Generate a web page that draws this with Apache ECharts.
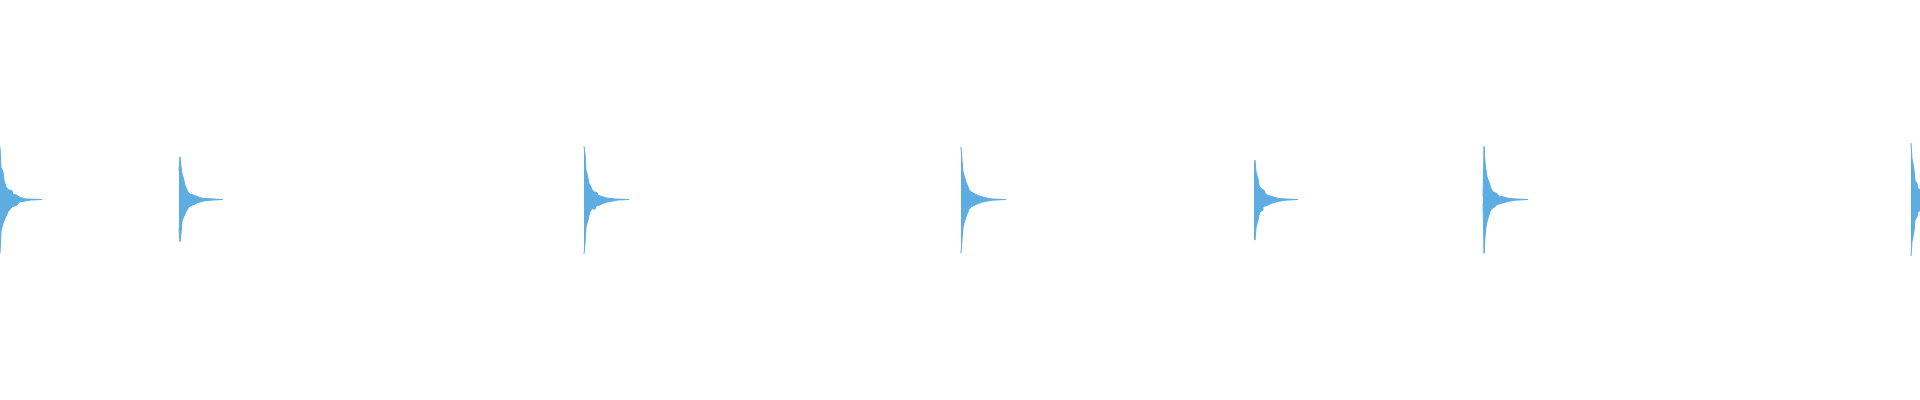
<!DOCTYPE html>
<html>
<head>
<meta charset="utf-8">
<script src="https://cdn.jsdelivr.net/npm/echarts@6/dist/echarts.min.js"></script>
<style>
  html, body { margin: 0; padding: 0; background: #ffffff; }
  #chart { width: 1920px; height: 400px; }
</style>
</head>
<body>
<div id="chart"></div>
<script>
// Start position (x) of each burst
const burstStarts = [0, 180, 584, 961, 1254, 1484, 1911];

// Upper envelope per burst: [offset, amplitude]
const upperA = [[0,52.7],[1,32],[3,27.7],[4,19.3],[5,16],[6,12.7],[8,10],[10,8.7],[12,6.7],[13,5.3],[15,4.3],[17,2.7],[19,2],[20,1],[22,0.5],[26,0],[41,0]];
const lowerA = [[0,54],[1,32],[3,24],[5,19],[7,14.7],[8,12.3],[10,10],[12,7.3],[14,5.7],[17,4],[19,2.7],[21,1.7],[24,1],[28,0.5],[31,0],[41,0]];

const upperB = [[-1,28.3],[0,42.7],[1,33],[2,26],[3,22.7],[4,18.7],[5,14.3],[6,12.7],[7,10],[8,7.7],[9,6.7],[10,5.3],[12,4.3],[14,3.3],[16,2.7],[18,2],[20,1.3],[22,1],[25,0.7],[30,0],[42,0]];
const lowerB = [[-1,29],[0,42.3],[1,34],[2,22],[3,19],[4,17],[5,14.7],[6,12.3],[7,10.7],[8,9],[10,6.7],[12,5],[14,4],[16,3],[18,2],[20,1.3],[25,0.7],[30,0],[42,0]];

const upperC = [[0,53.3],[1,46],[2,29.3],[3,26],[4,21],[5,16],[6,14.3],[7,12.7],[8,10],[9,9.3],[10,7.7],[11,8.7],[12,6.7],[13,6],[14,4.3],[15,3.3],[17,2.7],[19,2],[21,1.3],[24,1],[28,0.5],[31,0],[44,0]];
const lowerC = [[0,54.7],[1,44],[2,28],[3,24],[4,20.7],[5,15.7],[6,12.3],[7,10.7],[8,9],[9,7.3],[10,9.7],[11,8.3],[12,6.7],[13,5.7],[15,4.7],[17,4],[19,3],[21,2.3],[24,1.7],[28,1],[31,0.5],[34,0],[44,0]];

const upperD = [[0,52.7],[1,39.3],[2,27.7],[3,24.3],[4,21],[5,17.7],[6,16],[7,12.7],[8,10],[9,8.7],[10,7.7],[11,6.7],[12,6],[13,5],[15,4],[17,3],[19,2.7],[21,2],[24,1],[28,0.5],[31,0],[44,0]];
const lowerD = [[0,54],[1,40.7],[2,28],[3,24],[4,20.7],[5,17.3],[6,14.7],[7,12.3],[8,10],[9,8.3],[10,7.3],[11,6],[13,5],[15,4],[17,3.3],[19,2.7],[21,2],[24,1.3],[28,0.7],[31,0],[44,0]];

const upperE = [[0,35.3],[1,39.3],[2,27.7],[3,24.3],[4,21],[5,14.3],[6,12.7],[7,11],[9,9.3],[10,7.7],[11,6.7],[12,6],[13,4.3],[15,3.3],[17,2.7],[19,2],[21,1.3],[24,0.7],[28,0],[43,0]];
const lowerE = [[0,37.3],[1,40.7],[2,29],[3,24],[4,20.7],[5,15.7],[6,12.3],[7,10.7],[9,7.3],[11,6],[13,5],[15,4],[17,3.3],[19,2.7],[21,2],[24,1.3],[28,0.7],[31,0],[43,0]];

const upperF = [[-1,2.7],[0,53.3],[1,37.7],[2,29.3],[3,22.7],[4,20],[5,17.7],[6,14.3],[7,11],[8,10],[9,7.7],[10,6.7],[11,6],[13,4.3],[15,3.3],[17,2.7],[19,2],[21,1.3],[24,0.7],[28,0],[43,0]];
const lowerF = [[-1,4],[0,54],[1,37.3],[2,28],[3,22.3],[4,19],[5,15.7],[6,12.3],[7,10.7],[8,9],[9,7.3],[11,6],[13,5],[15,4],[17,3.3],[19,2.7],[21,2],[24,1.3],[28,0.7],[31,0],[43,0]];

const upperG = [[0,56.7],[1,41],[2,36],[3,29.3],[4,19.3],[5,17.7],[6,16],[7,11],[8,9.3],[9,9.3]];
const lowerG = [[0,56.7],[1,42.3],[2,37.3],[3,32],[4,20.7],[5,19],[6,17.3],[7,12.3],[8,10.7],[9,10.7]];

const upperBursts = [upperA, upperB, upperC, upperD, upperE, upperF, upperG];
const lowerBursts = [lowerA, lowerB, lowerC, lowerD, lowerE, lowerF, lowerG];

function buildSeries(bursts, sign) {
  const out = [];
  bursts.forEach((b, i) => {
    const s = burstStarts[i];
    b.forEach(([o, v]) => out.push([s + o, sign * v]));
    const last = b[b.length - 1][0];
    out.push([s + last + 1, null]);
  });
  return out;
}

const color = '#5dade2';
const chart = echarts.init(document.getElementById('chart'), null, { renderer: 'canvas' });
chart.setOption({
  animation: false,
  backgroundColor: '#ffffff',
  grid: { left: 0, right: 0, top: 0, bottom: 1, containLabel: false },
  xAxis: {
    type: 'value', min: 0, max: 1920,
    show: false
  },
  yAxis: {
    type: 'value', min: -200, max: 200,
    show: false
  },
  series: [
    {
      type: 'line', step: 'end', showSymbol: false, connectNulls: false,
      data: buildSeries(upperBursts, 1),
      lineStyle: { color: color, width: 1 },
      areaStyle: { color: color, opacity: 1, origin: -0.5 },
      itemStyle: { color: color }
    },
    {
      type: 'line', step: 'end', showSymbol: false, connectNulls: false,
      data: buildSeries(lowerBursts, -1),
      lineStyle: { color: color, width: 1 },
      areaStyle: { color: color, opacity: 1, origin: 0.5 },
      itemStyle: { color: color }
    }
  ]
});
</script>
</body>
</html>
